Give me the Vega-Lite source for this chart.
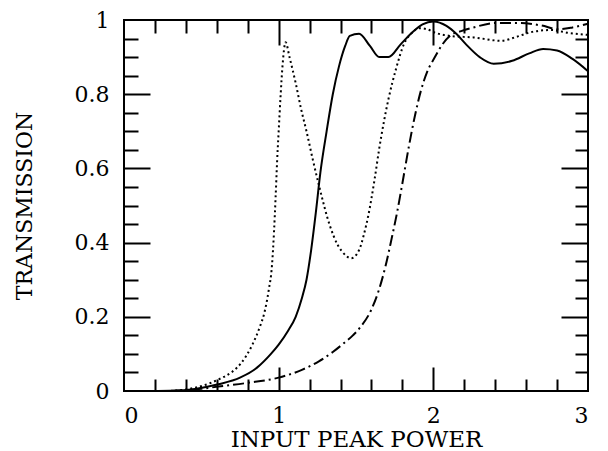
{
  "$schema": "https://vega.github.io/schema/vega-lite/v6.json",
  "width": 464,
  "height": 371,
  "autosize": {"type": "none"},
  "padding": {"left": 124, "top": 20, "right": 20, "bottom": 60},
  "background": "white",
  "config": {
    "view": {"stroke": "black", "strokeWidth": 2},
    "axis": {"grid": false, "domain": false, "tickColor": "black", "tickWidth": 2, "labelColor": "black", "titleColor": "black", "labelFont": "DejaVu Serif", "titleFont": "DejaVu Serif", "titleFontWeight": "normal"}
  },
  "datasets": {
    "solid": [
      {"x": 0.1, "y": 0}, {"x": 0.3, "y": 0.001}, {"x": 0.45, "y": 0.005}, {"x": 0.61, "y": 0.018},
      {"x": 0.75, "y": 0.036}, {"x": 0.86, "y": 0.063}, {"x": 0.95, "y": 0.1}, {"x": 1.0, "y": 0.125},
      {"x": 1.06, "y": 0.162}, {"x": 1.11, "y": 0.2}, {"x": 1.15, "y": 0.25}, {"x": 1.18, "y": 0.3},
      {"x": 1.21, "y": 0.38}, {"x": 1.24, "y": 0.48}, {"x": 1.27, "y": 0.59}, {"x": 1.31, "y": 0.7},
      {"x": 1.35, "y": 0.8}, {"x": 1.39, "y": 0.875}, {"x": 1.43, "y": 0.93}, {"x": 1.46, "y": 0.957}, {"x": 1.52, "y": 0.963},
      {"x": 1.59, "y": 0.93}, {"x": 1.65, "y": 0.9}, {"x": 1.71, "y": 0.9}, {"x": 1.79, "y": 0.935},
      {"x": 1.86, "y": 0.965}, {"x": 1.93, "y": 0.988}, {"x": 2.0, "y": 0.996}, {"x": 2.085, "y": 0.984},
      {"x": 2.15, "y": 0.962}, {"x": 2.21, "y": 0.935}, {"x": 2.3, "y": 0.9}, {"x": 2.39, "y": 0.882},
      {"x": 2.51, "y": 0.89}, {"x": 2.62, "y": 0.91}, {"x": 2.71, "y": 0.922}, {"x": 2.8, "y": 0.918},
      {"x": 2.9, "y": 0.895}, {"x": 3.0, "y": 0.862}
    ],
    "dotted": [
      {"x": 0.3, "y": 0}, {"x": 0.45, "y": 0.008}, {"x": 0.55, "y": 0.02}, {"x": 0.61, "y": 0.031},
      {"x": 0.7, "y": 0.052}, {"x": 0.757, "y": 0.075}, {"x": 0.83, "y": 0.125}, {"x": 0.88, "y": 0.175},
      {"x": 0.907, "y": 0.21}, {"x": 0.935, "y": 0.27}, {"x": 0.957, "y": 0.34}, {"x": 0.97, "y": 0.43},
      {"x": 0.98, "y": 0.52}, {"x": 0.99, "y": 0.62}, {"x": 1.0, "y": 0.7}, {"x": 1.013, "y": 0.8},
      {"x": 1.025, "y": 0.877}, {"x": 1.045, "y": 0.94}, {"x": 1.07, "y": 0.9}, {"x": 1.11, "y": 0.83},
      {"x": 1.145, "y": 0.76}, {"x": 1.18, "y": 0.7}, {"x": 1.22, "y": 0.625}, {"x": 1.26, "y": 0.555},
      {"x": 1.33, "y": 0.447}, {"x": 1.38, "y": 0.395}, {"x": 1.41, "y": 0.376}, {"x": 1.47, "y": 0.358},
      {"x": 1.52, "y": 0.38}, {"x": 1.55, "y": 0.42}, {"x": 1.58, "y": 0.474}, {"x": 1.62, "y": 0.57},
      {"x": 1.65, "y": 0.653}, {"x": 1.71, "y": 0.787}, {"x": 1.76, "y": 0.87}, {"x": 1.81, "y": 0.935},
      {"x": 1.86, "y": 0.965}, {"x": 1.91, "y": 0.978}, {"x": 1.96, "y": 0.975}, {"x": 2.01, "y": 0.966},
      {"x": 2.11, "y": 0.957}, {"x": 2.26, "y": 0.953}, {"x": 2.44, "y": 0.944}, {"x": 2.54, "y": 0.955},
      {"x": 2.64, "y": 0.968}, {"x": 2.76, "y": 0.973}, {"x": 2.88, "y": 0.965}, {"x": 3.0, "y": 0.96}
    ],
    "dashdot": [
      {"x": 0.3, "y": 0}, {"x": 0.5, "y": 0.006}, {"x": 0.61, "y": 0.012}, {"x": 0.8, "y": 0.022},
      {"x": 1.0, "y": 0.036}, {"x": 1.15, "y": 0.057}, {"x": 1.26, "y": 0.08}, {"x": 1.35, "y": 0.105},
      {"x": 1.41, "y": 0.125}, {"x": 1.48, "y": 0.15}, {"x": 1.53, "y": 0.173}, {"x": 1.6, "y": 0.22},
      {"x": 1.65, "y": 0.275}, {"x": 1.69, "y": 0.335}, {"x": 1.73, "y": 0.41}, {"x": 1.765, "y": 0.48},
      {"x": 1.8, "y": 0.56}, {"x": 1.84, "y": 0.655}, {"x": 1.88, "y": 0.74}, {"x": 1.92, "y": 0.81},
      {"x": 1.96, "y": 0.86}, {"x": 2.01, "y": 0.9}, {"x": 2.06, "y": 0.935},
      {"x": 2.11, "y": 0.958}, {"x": 2.18, "y": 0.97}, {"x": 2.26, "y": 0.98}, {"x": 2.41, "y": 0.992},
      {"x": 2.56, "y": 0.992}, {"x": 2.7, "y": 0.985}, {"x": 2.81, "y": 0.975}, {"x": 2.9, "y": 0.98},
      {"x": 3.0, "y": 0.99}
    ]
  },
  "resolve": {"axis": {"x": "independent", "y": "independent"}},
  "layer": [
    {
      "data": {"name": "solid"},
      "mark": {"type": "line", "color": "black", "strokeWidth": 2, "interpolate": "monotone"},
      "encoding": {
        "x": {"field": "x", "type": "quantitative", "scale": {"domain": [0, 3], "nice": false},
          "axis": {"orient": "bottom", "values": [0, 1, 2, 3], "ticks": false, "tickSize": 0, "labelPadding": 14, "labelFontSize": 22, "labelExpr": "'' + datum.value", "title": "INPUT PEAK POWER", "titleFontSize": 23, "titlePadding": 2}},
        "y": {"field": "y", "type": "quantitative", "scale": {"domain": [0, 1], "nice": false},
          "axis": {"orient": "left", "values": [0, 0.2, 0.4, 0.6, 0.8, 1], "ticks": false, "tickSize": 0, "labelPadding": 15, "labelFontSize": 22, "labelExpr": "'' + datum.value", "title": "TRANSMISSION", "titleFontSize": 22, "titlePadding": 38}}
      }
    },
    {
      "data": {"name": "dotted"},
      "mark": {"type": "line", "color": "black", "strokeWidth": 2, "strokeDash": [2, 3], "interpolate": "monotone"},
      "encoding": {
        "x": {"field": "x", "type": "quantitative", "axis": {"orient": "bottom", "values": [1, 2], "tickSize": -24, "labels": false, "title": null}},
        "y": {"field": "y", "type": "quantitative", "axis": {"orient": "left", "values": [0.2, 0.4, 0.6, 0.8], "tickSize": -26, "labels": false, "title": null}}
      }
    },
    {
      "data": {"name": "dashdot"},
      "mark": {"type": "line", "color": "black", "strokeWidth": 2, "strokeDash": [11, 4, 2, 4], "interpolate": "monotone"},
      "encoding": {
        "x": {"field": "x", "type": "quantitative", "axis": {"orient": "bottom", "values": [0.2, 0.4, 0.6, 0.8, 1.2, 1.4, 1.6, 1.8, 2.2, 2.4, 2.6, 2.8], "tickSize": -12, "labels": false, "title": null}},
        "y": {"field": "y", "type": "quantitative", "axis": {"orient": "left", "values": [0.05, 0.1, 0.15, 0.25, 0.3, 0.35, 0.45, 0.5, 0.55, 0.65, 0.7, 0.75, 0.85, 0.9, 0.95], "tickSize": -14, "labels": false, "title": null}}
      }
    },
    {
      "data": {"name": "solid"},
      "mark": {"type": "line", "strokeOpacity": 0},
      "encoding": {
        "x": {"field": "x", "type": "quantitative", "axis": {"orient": "top", "values": [1, 2], "tickSize": -25, "labels": false, "title": null}},
        "y": {"field": "y", "type": "quantitative", "axis": {"orient": "right", "values": [0.2, 0.4, 0.6, 0.8], "tickSize": -27, "labels": false, "title": null}}
      }
    },
    {
      "data": {"name": "solid"},
      "mark": {"type": "line", "strokeOpacity": 0},
      "encoding": {
        "x": {"field": "x", "type": "quantitative", "axis": {"orient": "top", "values": [0.2, 0.4, 0.6, 0.8, 1.2, 1.4, 1.6, 1.8, 2.2, 2.4, 2.6, 2.8], "tickSize": -13, "labels": false, "title": null}},
        "y": {"field": "y", "type": "quantitative", "axis": {"orient": "right", "values": [0.05, 0.1, 0.15, 0.25, 0.3, 0.35, 0.45, 0.5, 0.55, 0.65, 0.7, 0.75, 0.85, 0.9, 0.95], "tickSize": -13, "labels": false, "title": null}}
      }
    }
  ]
}
